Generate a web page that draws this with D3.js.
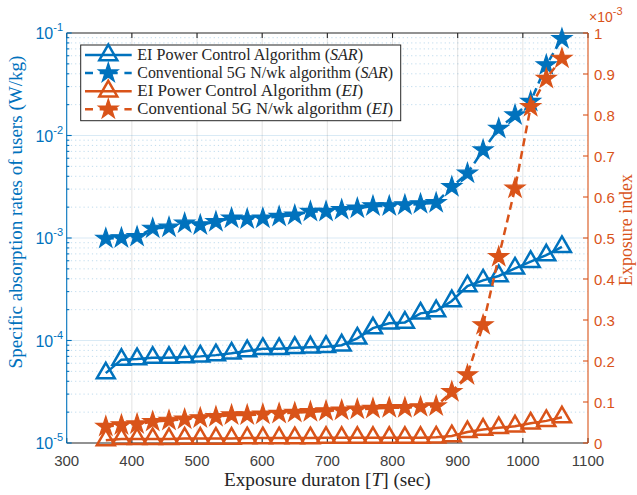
<!DOCTYPE html>
<html>
<head>
<meta charset="utf-8">
<script src="https://cdn.jsdelivr.net/npm/d3@7"></script>
<style>
  body { margin: 0; background: #fff; }
  svg { display: block; }
  .num { font-family: "Liberation Sans", Arial, Helvetica, sans-serif; }
  .serif { font-family: "Liberation Serif", "Times New Roman", serif; }
</style>
</head>
<body>
<div id="chart"></div>
<script>
// exposure duration T (sec)
var durations = [360, 384, 408, 432, 457, 481, 505, 529, 553, 577, 601, 626, 650, 674, 698,
                 722, 746, 770, 795, 819, 843, 867, 891, 915, 939, 963, 988, 1012, 1036, 1060];

// SAR (W/kg), left log axis
var sarPower = [4.8e-5, 6.5e-5, 6.6e-5, 6.8e-5, 6.8e-5, 6.9e-5, 7.0e-5, 7.2e-5, 7.5e-5, 7.9e-5,
                8.3e-5, 8.3e-5, 8.5e-5, 8.6e-5, 8.7e-5, 9.0e-5, 1.05e-4, 1.32e-4, 1.47e-4, 1.5e-4,
                1.84e-4, 1.94e-4, 2.43e-4, 3.4e-4, 3.86e-4, 4.26e-4, 5.06e-4, 5.87e-4, 6.8e-4, 8.2e-4];
var sarConv = [9.9e-4, 1.0e-3, 1.03e-3, 1.24e-3, 1.27e-3, 1.39e-3, 1.34e-3, 1.44e-3, 1.56e-3, 1.53e-3,
               1.56e-3, 1.62e-3, 1.67e-3, 1.81e-3, 1.81e-3, 1.88e-3, 1.95e-3, 2.05e-3, 2.05e-3, 2.1e-3,
               2.15e-3, 2.2e-3, 3.16e-3, 4.27e-3, 7.2e-3, 1.17e-2, 1.58e-2, 2.14e-2, 4.87e-2, 8.8e-2];

// exposure index, right axis, in units of 1e-3
var eiPower = [0.007, 0.010, 0.010, 0.010, 0.010, 0.011, 0.011, 0.011, 0.011, 0.012,
               0.012, 0.012, 0.012, 0.012, 0.013, 0.013, 0.013, 0.013, 0.013, 0.013,
               0.013, 0.014, 0.017, 0.027, 0.033, 0.037, 0.041, 0.048, 0.054, 0.063];
var eiConv = [0.040, 0.044, 0.046, 0.052, 0.055, 0.058, 0.061, 0.064, 0.068, 0.068,
              0.070, 0.072, 0.074, 0.076, 0.078, 0.080, 0.082, 0.084, 0.086, 0.086,
              0.088, 0.090, 0.125, 0.166, 0.288, 0.454, 0.621, 0.820, 0.889, 0.938];

var xTicks = [300, 400, 500, 600, 700, 800, 900, 1000, 1100];
var leftTicks = [1e-5, 1e-4, 1e-3, 1e-2, 1e-1];
var rightTicks = [0, 0.1, 0.2, 0.3, 0.4, 0.5, 0.6, 0.7, 0.8, 0.9, 1];

var legendNames = ["EI Power Control Algorithm (", "Conventional 5G N/wk algorithm (",
                   "EI Power Control Algorithm (", "Conventional 5G N/wk algorithm ("];
var legendTags = ["SAR", "SAR", "EI", "EI"];

var width = 637, height = 495;
var pLeft = 66.7, pRight = 588, pTop = 33, pBottom = 443;
var blue = "#0072BD", orange = "#D95319", dark = "#262626";

var svg = d3.select("#chart").append("svg")
    .attr("width", width)
    .attr("height", height);

var x = d3.scaleLinear().domain([300, 1100]).range([pLeft, pRight]);
var yL = d3.scaleLog().domain([1e-5, 1e-1]).range([pBottom, pTop]);
var yR = d3.scaleLinear().domain([0, 1]).range([pBottom, pTop]);

var minorTicks = yL.ticks().filter(function(v) {
  return Math.abs(Math.log10(v) - Math.round(Math.log10(v))) > 1e-6;
});

// grid
var grid = svg.append("g");
grid.selectAll(".mg").data(minorTicks).enter().append("line")
    .attr("x1", pLeft).attr("x2", pRight)
    .attr("y1", function(d) { return yL(d); }).attr("y2", function(d) { return yL(d); })
    .attr("stroke", blue).attr("stroke-opacity", 0.25)
    .attr("stroke-dasharray", "1.2,3");
grid.selectAll(".xg").data(xTicks.slice(1, -1)).enter().append("line")
    .attr("x1", function(d) { return x(d); }).attr("x2", function(d) { return x(d); })
    .attr("y1", pTop).attr("y2", pBottom)
    .attr("stroke", dark).attr("stroke-opacity", 0.13);
grid.selectAll(".yg").data(leftTicks.slice(1, -1)).enter().append("line")
    .attr("x1", pLeft).attr("x2", pRight)
    .attr("y1", function(d) { return yL(d); }).attr("y2", function(d) { return yL(d); })
    .attr("stroke", blue).attr("stroke-opacity", 0.15);

// axes box and ticks
var ax = svg.append("g").attr("stroke-width", 1.1);
ax.append("line").attr("x1", pLeft).attr("x2", pRight).attr("y1", pBottom).attr("y2", pBottom).attr("stroke", dark);
ax.append("line").attr("x1", pLeft).attr("x2", pRight).attr("y1", pTop).attr("y2", pTop).attr("stroke", dark);
ax.selectAll(".xt").data(xTicks).enter().append("path")
    .attr("d", function(d) { return "M" + x(d) + "," + pBottom + "v-5M" + x(d) + "," + pTop + "v5"; })
    .attr("stroke", dark);
ax.append("line").attr("x1", pLeft).attr("x2", pLeft).attr("y1", pTop).attr("y2", pBottom).attr("stroke", blue);
ax.selectAll(".lt").data(leftTicks).enter().append("line")
    .attr("x1", pLeft).attr("x2", pLeft + 5)
    .attr("y1", function(d) { return yL(d); }).attr("y2", function(d) { return yL(d); })
    .attr("stroke", blue);
ax.selectAll(".lmt").data(minorTicks).enter().append("line")
    .attr("x1", pLeft).attr("x2", pLeft + 2.6)
    .attr("y1", function(d) { return yL(d); }).attr("y2", function(d) { return yL(d); })
    .attr("stroke", blue);
ax.append("line").attr("x1", pRight).attr("x2", pRight).attr("y1", pTop).attr("y2", pBottom).attr("stroke", orange);
ax.selectAll(".rt").data(rightTicks).enter().append("line")
    .attr("x1", pRight).attr("x2", pRight - 5)
    .attr("y1", function(d) { return yR(d); }).attr("y2", function(d) { return yR(d); })
    .attr("stroke", orange);

// tick labels
svg.selectAll(".xl").data(xTicks).enter().append("text")
    .attr("class", "num")
    .attr("x", function(d) { return x(d); })
    .attr("y", 466)
    .attr("text-anchor", "middle")
    .attr("font-size", 15)
    .attr("fill", "#404040")
    .text(function(d) { return d; });

var ll = svg.selectAll(".yl").data(leftTicks).enter().append("text")
    .attr("class", "num")
    .attr("x", 63)
    .attr("y", function(d) { return yL(d) + 6; })
    .attr("text-anchor", "end")
    .attr("font-size", 16)
    .attr("fill", blue);
ll.append("tspan").text("10");
ll.append("tspan").attr("dy", -8).attr("font-size", 11)
    .text(function(d) { return "-" + Math.round(-Math.log10(d)); });

svg.selectAll(".yr").data(rightTicks).enter().append("text")
    .attr("class", "num")
    .attr("x", pRight + 6)
    .attr("y", function(d) { return yR(d) + 5.5; })
    .attr("font-size", 15)
    .attr("fill", orange)
    .text(function(d) { return d; });

var mult = svg.append("text").attr("class", "num")
    .attr("x", pRight + 1).attr("y", 22)
    .attr("font-size", 14).attr("fill", orange);
mult.append("tspan").text("\u00d710");
mult.append("tspan").attr("dy", -7).attr("font-size", 11).text("-3");

// axis labels
function fitWidth(sel, target) {
  var w = sel.node().getComputedTextLength();
  sel.attr("font-size", parseFloat(sel.attr("font-size")) * target / w);
}

var xl = svg.append("text").attr("class", "serif")
    .attr("x", (pLeft + pRight) / 2).attr("y", 486)
    .attr("text-anchor", "middle").attr("font-size", 16).attr("fill", dark);
xl.append("tspan").text("Exposure duraton [");
xl.append("tspan").attr("font-style", "italic").text("T");
xl.append("tspan").text("] (sec)");
fitWidth(xl, 207);

var yl = svg.append("text").attr("class", "serif")
    .attr("transform", "translate(22,212) rotate(-90)")
    .attr("text-anchor", "middle").attr("font-size", 16).attr("fill", blue)
    .text("Specific absorption rates of users (W/kg)");
fitWidth(yl, 313);

var yr = svg.append("text").attr("class", "serif")
    .attr("transform", "translate(632,230) rotate(-90)")
    .attr("text-anchor", "middle").attr("font-size", 16).attr("fill", orange)
    .text("Exposure index");
fitWidth(yr, 112);

// series
var series = [
  { vals: sarPower, y: yL, color: blue, dash: null, marker: "tri" },
  { vals: sarConv, y: yL, color: blue, dash: "8,5", marker: "star" },
  { vals: eiPower, y: yR, color: orange, dash: null, marker: "tri" },
  { vals: eiConv, y: yR, color: orange, dash: "8,5", marker: "star" }
];

var triPath = d3.symbol(d3.symbolTriangle, 140)();
var starPath = d3.symbol(d3.symbolStar, 120)();

function drawMarker(g, type, color) {
  if (type === "tri") {
    g.append("path").attr("d", triPath)
        .attr("fill", "none").attr("stroke", color).attr("stroke-width", 2.5)
        .attr("stroke-linejoin", "miter");
  } else {
    g.append("path").attr("d", starPath)
        .attr("fill", color).attr("stroke", color).attr("stroke-width", 1.2)
        .attr("stroke-linejoin", "miter");
  }
}

series.forEach(function(s) {
  var line = d3.line()
      .x(function(d, i) { return x(durations[i]); })
      .y(function(d) { return s.y(d); });
  var g = svg.append("g");
  g.append("path").datum(s.vals)
      .attr("d", line)
      .attr("fill", "none")
      .attr("stroke", s.color)
      .attr("stroke-width", 2.5)
      .attr("stroke-dasharray", s.dash);
  g.selectAll(".m").data(s.vals).enter().append("g")
      .attr("transform", function(d, i) { return "translate(" + x(durations[i]) + "," + s.y(d) + ")"; })
      .each(function() { drawMarker(d3.select(this), s.marker, s.color); });
});

// legend
var lg = svg.append("g");
lg.append("rect")
    .attr("x", 80.7).attr("y", 45).attr("width", 320).attr("height", 75.7)
    .attr("fill", "#fff").attr("stroke", dark).attr("stroke-width", 1);
series.forEach(function(s, i) {
  var cy = 55 + i * 18.1;
  lg.append("line")
      .attr("x1", 85).attr("x2", 131.7).attr("y1", cy).attr("y2", cy)
      .attr("stroke", s.color).attr("stroke-width", 2.5)
      .attr("stroke-dasharray", s.dash ? "8,6.7,18,6.7,8" : null);
  drawMarker(lg.append("g").attr("transform", "translate(108.3," + cy + ")"), s.marker, s.color);
  var t = lg.append("text").attr("class", "serif")
      .attr("x", 137.3).attr("y", cy + 5)
      .attr("font-size", 15).attr("fill", dark);
  t.append("tspan").text(legendNames[i]);
  t.append("tspan").attr("font-style", "italic").text(legendTags[i]);
  t.append("tspan").text(")");
  fitWidth(t, i % 2 === 0 ? 226 : 256);
});
</script>
</body>
</html>
